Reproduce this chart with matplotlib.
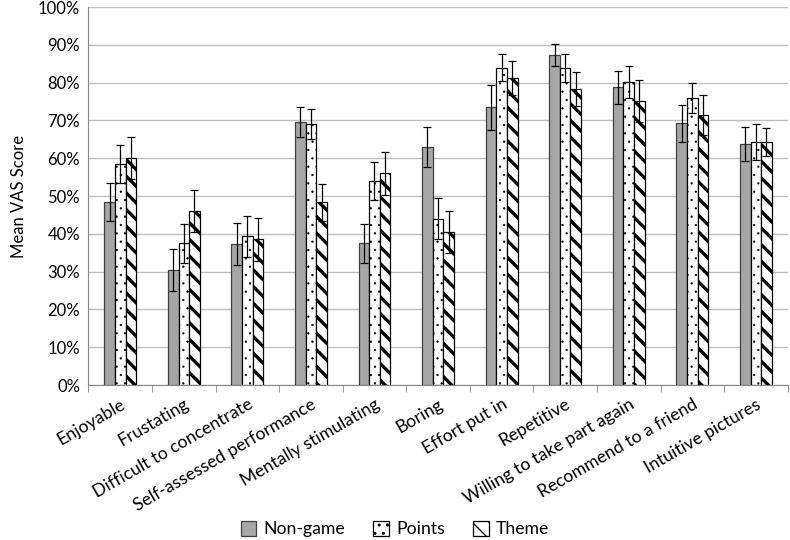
import matplotlib
matplotlib.use("Agg")
import matplotlib.pyplot as plt
import numpy as np
from matplotlib.ticker import PercentFormatter, MultipleLocator

plt.rcParams['font.family'] = ['Lato', 'DejaVu Sans']

categories = ["Enjoyable", "Frustating", "Difficult to concentrate",
              "Self-assessed performance", "Mentally stimulating", "Boring",
              "Effort put in", "Repetitive", "Willing to take part again",
              "Recommend to a friend", "Intuitive pictures"]
series_names = ["Non-game", "Points", "Theme"]
non_game = [48.5, 30.5, 37.3, 69.5, 37.5, 63.0, 73.5, 87.3, 78.8, 69.2, 63.8]
points = [58.5, 37.5, 39.3, 69.0, 54.0, 44.0, 84.0, 83.8, 80.2, 76.0, 64.3]
theme = [60.0, 46.0, 38.5, 48.3, 56.0, 40.5, 81.3, 78.3, 75.2, 71.4, 64.3]
err_non_game = [5.0, 5.5, 5.5, 4.0, 5.2, 5.2, 6.0, 3.0, 4.4, 4.8, 4.5]
err_points = [5.0, 5.2, 5.5, 4.0, 5.0, 5.5, 3.5, 3.7, 4.2, 4.0, 4.7]
err_theme = [5.5, 5.5, 5.7, 5.0, 5.7, 5.5, 4.5, 4.6, 5.6, 5.3, 3.7]

fig = plt.figure(figsize=(7.9, 5.4), dpi=100)
ax = fig.add_axes([0.112, 0.287, 0.885, 0.700])

x = np.arange(len(categories))
w = 0.167
styles = [
    dict(color="#a6a6a6", edgecolor="#404040", hatch=None, hlw=1.0),
    dict(color="white", edgecolor="black", hatch="..", hlw=0.4),
    dict(color="white", edgecolor="black", hatch="\\\\", hlw=2.4),
]
vals = [non_game, points, theme]
errs = [err_non_game, err_points, err_theme]
handles = []
for i, (v, e, st) in enumerate(zip(vals, errs, styles)):
    with plt.rc_context({'hatch.linewidth': st['hlw'], 'hatch.color': 'black'}):
        bars = ax.bar(x + (i - 1) * w, v, width=w, color=st['color'],
                      edgecolor=st['edgecolor'], linewidth=0.9,
                      hatch=st['hatch'], label=series_names[i], zorder=2,
                      yerr=e, capsize=3,
                      error_kw=dict(ecolor='black', elinewidth=0.9, capthick=0.9, zorder=3))
        for b in bars:
            if hasattr(b, 'set_hatch_linewidth'):
                b.set_hatch_linewidth(st['hlw'])
    handles.append(bars)

ax.set_ylim(0, 100)
ax.set_xlim(-0.5, len(categories) - 0.5)
ax.yaxis.set_major_locator(MultipleLocator(10))
ax.yaxis.set_major_formatter(PercentFormatter(decimals=0))
ax.grid(axis='y', color='#bfbfbf', linewidth=1.0, zorder=0)
ax.set_axisbelow(True)
for s in ['top', 'right']:
    ax.spines[s].set_visible(False)
ax.spines['left'].set_color('#868686')
ax.spines['bottom'].set_color('#868686')
ax.tick_params(axis='y', length=0, labelsize=12, pad=6)
ax.set_xticks(x)
ax.set_xticklabels(categories, rotation=30, ha='right', rotation_mode='anchor', fontsize=12.7)
ax.tick_params(axis='x', length=0, pad=8)
ax.set_xticks(np.arange(-0.5, len(categories), 1), minor=True)
ax.tick_params(axis='x', which='minor', length=5, color='#868686')
ax.set_ylabel("Mean VAS Score", fontsize=12, labelpad=8)

fig.legend(handles=handles, labels=series_names, loc='center', bbox_to_anchor=(0.5, 0.02),
           ncol=3, frameon=False, fontsize=12.7, handlelength=0.9, handleheight=0.9,
           columnspacing=1.6, handletextpad=0.4)

fig.savefig("out.png", dpi=100)
